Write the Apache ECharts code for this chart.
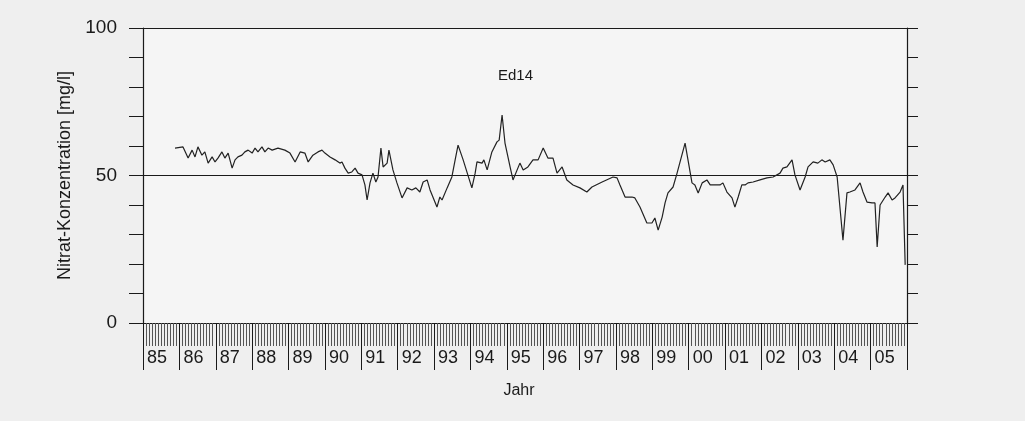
<!DOCTYPE html>
<html>
<head>
<meta charset="utf-8">
<script src="https://cdn.jsdelivr.net/npm/echarts@6/dist/echarts.min.js"></script>
<style>
  html, body { margin: 0; padding: 0; background: #efefef; }
  #chart { width: 1025px; height: 421px; }
</style>
</head>
<body>
<div id="chart"></div>
<script>
  // Ed14 - Nitrat, Messzeitpunkte als Dezimaljahr
  var years = [
    1985.88, 1986.10, 1986.24, 1986.35, 1986.43, 1986.51, 1986.62, 1986.70, 1986.79, 1986.90,
    1986.98, 1987.06, 1987.17, 1987.25, 1987.34, 1987.45, 1987.53, 1987.61, 1987.72, 1987.80,
    1987.89, 1988.00, 1988.08, 1988.16, 1988.27, 1988.35, 1988.44, 1988.55, 1988.71, 1988.90,
    1989.04, 1989.18, 1989.32, 1989.45, 1989.54, 1989.67, 1989.81, 1989.92, 1990.00, 1990.14,
    1990.28, 1990.41, 1990.47, 1990.55, 1990.64, 1990.74, 1990.83, 1990.91, 1991.02, 1991.10,
    1991.16, 1991.24, 1991.32, 1991.40, 1991.46, 1991.54, 1991.60, 1991.71, 1991.76, 1991.87,
    1991.98, 1992.12, 1992.26, 1992.39, 1992.50, 1992.61, 1992.70, 1992.81, 1992.89, 1993.08,
    1993.16, 1993.22, 1993.36, 1993.49, 1993.58, 1993.66, 1993.80, 1994.04, 1994.13, 1994.18,
    1994.32, 1994.37, 1994.46, 1994.59, 1994.73, 1994.79, 1994.87, 1994.95, 1995.09, 1995.17,
    1995.36, 1995.45, 1995.58, 1995.72, 1995.86, 1996.00, 1996.13, 1996.27, 1996.38, 1996.52,
    1996.65, 1996.82, 1997.01, 1997.20, 1997.34, 1997.62, 1997.92, 1998.03, 1998.11, 1998.25,
    1998.44, 1998.52, 1998.66, 1998.85, 1998.99, 1999.07, 1999.16, 1999.27, 1999.35, 1999.43,
    1999.57, 1999.68, 1999.90, 1999.98, 2000.09, 2000.17, 2000.26, 2000.37, 2000.50, 2000.59,
    2000.72, 2000.86, 2000.94, 2001.05, 2001.19, 2001.27, 2001.36, 2001.46, 2001.55, 2001.63,
    2001.77, 2001.96, 2002.15, 2002.32, 2002.51, 2002.59, 2002.70, 2002.84, 2002.92, 2003.06,
    2003.20, 2003.28, 2003.42, 2003.55, 2003.66, 2003.75, 2003.88, 2003.97, 2004.08, 2004.24,
    2004.35, 2004.43, 2004.57, 2004.71, 2004.79, 2004.90, 2005.04, 2005.12, 2005.18, 2005.26,
    2005.40, 2005.48, 2005.59, 2005.67, 2005.81, 2005.89, 2005.95
  ];
  var nitrat = [
    59.3, 59.7, 55.9, 58.6, 56.3, 59.7, 56.9, 58.0, 54.2, 56.3,
    54.6, 55.9, 58.0, 55.9, 57.6, 52.5, 55.3, 56.3, 56.9, 58.0,
    58.6, 57.6, 59.3, 58.0, 59.7, 58.0, 59.3, 58.6, 59.3, 58.6,
    57.6, 54.6, 58.0, 57.6, 54.6, 56.9, 58.0, 58.6, 57.6, 56.3,
    55.3, 54.2, 54.6, 52.5, 50.8, 51.2, 52.5, 50.8, 50.2, 46.8,
    41.7, 47.5, 50.8, 47.8, 49.5, 59.3, 52.9, 54.2, 58.6, 51.9,
    47.5, 42.4, 45.8, 45.1, 45.8, 44.4, 47.8, 48.5, 45.1, 39.3,
    42.7, 41.7, 45.8, 49.5, 55.3, 60.3, 55.3, 45.8, 50.8, 54.6,
    54.2, 55.3, 51.9, 58.0, 61.4, 62.0, 70.5, 61.0, 52.9, 48.5,
    54.2, 51.9, 52.9, 55.3, 55.3, 59.3, 55.9, 55.9, 50.8, 52.9,
    48.5, 46.8, 45.8, 44.4, 46.1, 47.8, 49.5, 49.2, 46.8, 42.7,
    42.7, 42.4, 39.3, 33.9, 33.9, 35.6, 31.5, 35.9, 40.7, 44.1,
    46.1, 50.8, 61.0, 55.3, 47.5, 46.8, 44.1, 47.5, 48.5, 46.8,
    46.8, 46.8, 47.5, 44.4, 42.4, 39.3, 42.7, 46.8, 46.8, 47.5,
    47.8, 48.5, 49.2, 49.5, 50.8, 52.5, 52.9, 55.3, 50.2, 45.1,
    49.5, 52.9, 54.6, 54.2, 55.3, 54.6, 55.3, 53.6, 49.5, 28.1,
    44.1, 44.4, 45.1, 47.5, 44.4, 41.0, 40.7, 40.7, 25.8, 40.0,
    42.7, 44.1, 41.7, 42.4, 44.4, 46.8, 19.7
  ];
  var yearLabels = ['85', '86', '87', '88', '89', '90', '91', '92', '93', '94', '95',
    '96', '97', '98', '99', '00', '01', '02', '03', '04', '05'];

  var font = 'Liberation Sans';
  var ink = '#1a1a1a';

  var myChart = echarts.init(document.getElementById('chart'));
  var option = {
    backgroundColor: '#efefef',
    animation: false,
    textStyle: { fontFamily: font },
    title: {
      text: 'Ed14',
      left: 493,
      top: 63,
      textStyle: { fontFamily: font, fontSize: 15, fontWeight: 'normal', color: ink }
    },
    grid: {
      left: 143,
      right: 118,
      top: 28,
      bottom: 98,
      show: true,
      backgroundColor: '#f5f5f5',
      borderWidth: 0
    },
    xAxis: {
      type: 'value',
      min: 1985,
      max: 2006,
      interval: 1,
      name: 'Jahr',
      nameLocation: 'middle',
      nameGap: 60,
      nameTextStyle: { fontFamily: font, fontSize: 16, color: ink, padding: [0, 12, 0, 0] },
      axisLine: { show: true, onZero: false, lineStyle: { color: ink, width: 1.2 } },
      axisTick: { show: true, inside: false, length: 47, lineStyle: { color: ink, width: 1 } },
      minorTick: { show: true, splitNumber: 12, length: 23, lineStyle: { color: '#555', width: 1 } },
      splitLine: { show: false },
      minorSplitLine: { show: false },
      axisLabel: {
        margin: 26,
        align: 'left',
        padding: [0, 0, 0, 4],
        fontSize: 18,
        color: ink,
        fontFamily: font,
        formatter: function (v) {
          var i = Math.round(v) - 1985;
          return i >= 0 && i < yearLabels.length ? yearLabels[i] : '';
        }
      }
    },
    yAxis: [
      {
        type: 'value',
        min: 0,
        max: 100,
        interval: 50,
        position: 'left',
        name: 'Nitrat-Konzentration [mg/l]',
        nameLocation: 'middle',
        nameGap: 68,
        nameTextStyle: { fontFamily: font, fontSize: 18, color: ink },
        axisLine: { show: true, lineStyle: { color: ink, width: 1.2 } },
        axisTick: { show: true, inside: false, length: 14, lineStyle: { color: ink } },
        minorTick: { show: true, splitNumber: 5, length: 14, lineStyle: { color: ink } },
        splitLine: { show: true, lineStyle: { color: ink, width: 1.2 } },
        axisLabel: { margin: 26, fontSize: 19, color: ink, fontFamily: font }
      },
      {
        type: 'value',
        min: 0,
        max: 100,
        interval: 10,
        position: 'right',
        axisLine: { show: true, lineStyle: { color: ink, width: 1.2 } },
        axisTick: { show: true, inside: false, length: 11, lineStyle: { color: ink } },
        splitLine: { show: false },
        axisLabel: { show: false }
      }
    ],
    series: [
      {
        type: 'line',
        data: years.map(function (y, i) { return [y, nitrat[i]]; }),
        showSymbol: false,
        symbol: 'none',
        lineStyle: { color: '#222', width: 1.2 }
      }
    ]
  };
  myChart.setOption(option);
</script>
</body>
</html>
